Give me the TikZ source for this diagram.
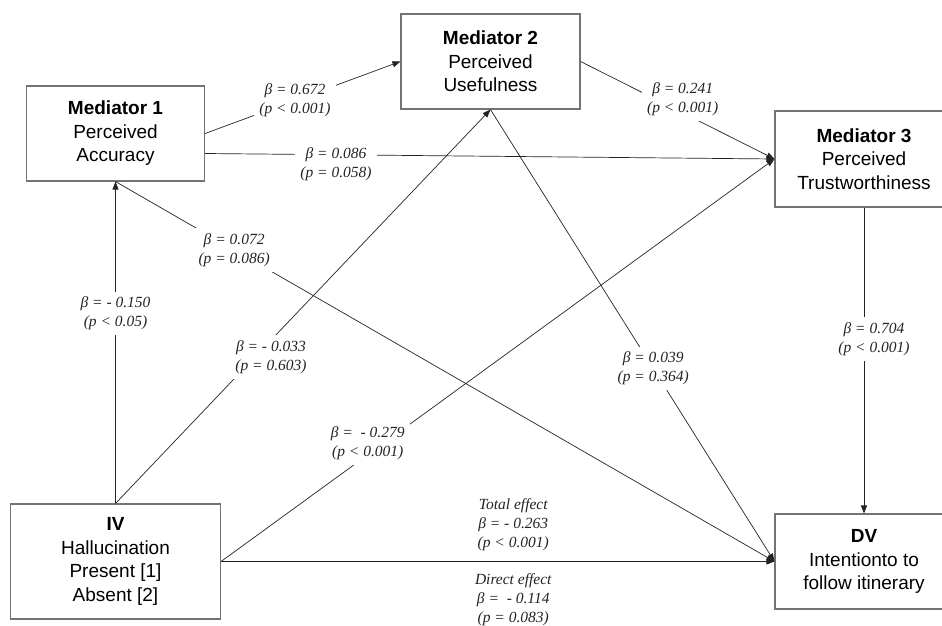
\documentclass[tikz,border=0pt]{standalone}
\usepackage{fontspec}
\setmainfont{Liberation Sans}
\newfontfamily\coeffont{Liberation Serif}
\usetikzlibrary{arrows.meta,positioning}
\definecolor{BoxGray} {RGB}{115,115,115}
\definecolor{LineGray}{RGB}{ 35, 35, 35}
\tikzset{
  %% variable boxes (IV / mediators / DV)
  varbox/.style={rectangle,draw=BoxGray,line width=1.1pt,fill=white,
                 minimum width=178pt,minimum height=95pt,inner sep=0pt,
                 font=\fontsize{19}{23.5}\selectfont,align=center},
  %% path coefficients
  coef/.style={fill=white,inner sep=5pt,align=center,
               font=\coeffont\itshape\fontsize{15.5}{19}\selectfont},
  %% arrows
  patharr/.style={-{Triangle[length=8pt,width=6pt]},line width=0.7pt,color=LineGray},
}

\begin{document}
\begin{tikzpicture}[x=1pt,y=1pt]
    \useasboundingbox (0,0) rectangle (942,625);

    %% -- boxes ------------------------------------------------
    \node[varbox] (m1) at (115.5,491.5) {\textbf{Mediator 1}\\Perceived\\Accuracy};
    \node[varbox,minimum width=179pt] (m2) at (490.5,563.5)
      {\textbf{Mediator 2}\\Perceived\\Usefulness};
    \node[varbox,minimum height=96pt] (m3) at (864,466)
      {\textbf{Mediator 3}\\Perceived\\Trustworthiness};
    \node[varbox,minimum width=210pt,minimum height=115pt] (iv) at (115.5,63.5)
      {\textbf{IV}\\Hallucination\\Present [1]\\Absent [2]};
    \node[varbox] (dv) at (864,63.5)
      {\textbf{DV}\\Intentionto to\\follow itinerary};

    %% -- paths from IV ----------------------------------------
    \draw[patharr] (iv.north) -- node[coef,pos=0.59]
      {β = - 0.150\\(p < 0.05)} (m1.south);
    \draw[patharr] (iv.north) -- node[coef,pos=0.372,xshift=16pt]
      {β = - 0.033\\(p = 0.603)} (m2.south);
    \draw[patharr] (iv.east) -- node[coef,pos=0.294,xshift=-16pt]
      {β =\ \ - 0.279\\(p < 0.001)} (m3.west);
    \draw[patharr] (iv.east) --
      node[coef,fill=none,inner sep=2pt,above=8pt,pos=0.528]
        {Total effect\\β = - 0.263\\(p < 0.001)}
      node[coef,fill=none,inner sep=2pt,below=10pt,pos=0.528]
        {Direct effect\\β =\ \ - 0.114\\(p = 0.083)} (dv.west);

    %% -- paths between mediators ------------------------------
    \draw[patharr] (m1.east) -- node[coef,pos=0.46]
      {β = 0.672\\(p < 0.001)} (m2.west);
    \draw[patharr] ([yshift=-20pt]m1.east) -- node[coef,pos=0.23,yshift=-9pt]
      {β = 0.086\\(p = 0.058)} (m3.west);
    \draw[patharr] (m2.east) -- node[coef,pos=0.47,xshift=11pt,yshift=8pt]
      {β = 0.241\\(p < 0.001)} (m3.west);

    %% -- paths into DV ----------------------------------------
    \draw[patharr] (m1.south) -- node[coef,pos=0.18]
      {β = 0.072\\(p = 0.086)} (dv.west);
    \draw[patharr] (m2.south) -- node[coef,pos=0.573]
      {β = 0.039\\(p = 0.364)} (dv.west);
    \draw[patharr] (m3.south) -- node[coef,pos=0.43,xshift=10pt]
      {β = 0.704\\(p < 0.001)} (dv.north);
\end{tikzpicture}
\end{document}
